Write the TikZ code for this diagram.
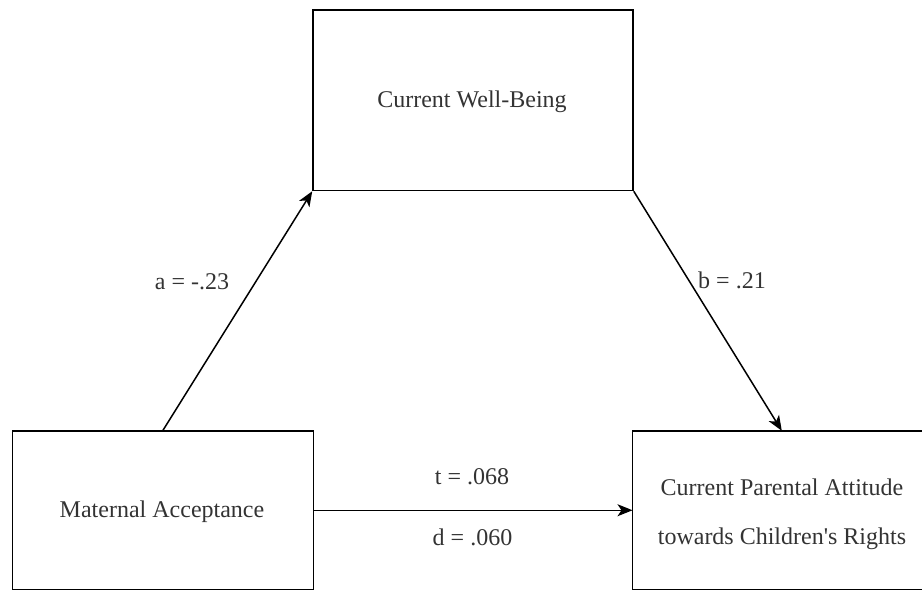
\documentclass[tikz,border=0pt]{standalone}
\usepackage{fontspec}
\setmainfont{Liberation Serif}
\usetikzlibrary{arrows.meta}
\begin{document}
\begin{tikzpicture}[x=1pt,y=-1pt,
  box/.style={draw=black, line width=1.5pt, inner sep=0pt},
  edge/.style={draw=black, line width=1.5pt},
  boxtxt/.style={align=center, inner sep=0pt,
    font=\fontsize{24}{49}\selectfont, text=black!80},
  lbl/.style={font=\fontsize{24}{28}\selectfont, text=black!80, inner sep=0pt},
  conn/.style={draw=black, line width=1.5pt, -{Stealth[length=15pt,width=12pt,inset=4pt]}}]
\useasboundingbox (0,0) rectangle (922,590);
\clip (0,0) rectangle (922,590);
\node[box, minimum width=320pt, minimum height=180.5pt] (wb) at (473,100.25) {};
\node[box, minimum width=300.6pt, minimum height=158.5pt] (ma) at (163,510.25) {};
\node[inner sep=0pt, minimum width=300pt, minimum height=158.5pt] (pa) at (782.7,510.25) {};
\draw[edge] (pa.north east) -- (pa.north west) -- (pa.south west) -- (pa.south east);
\node[boxtxt] (wbt) at (472,102) {Current Well-Being};
\node[boxtxt] (mat) at (162,512) {Maternal Acceptance};
\node[boxtxt] (pat) at (782,514) {Current Parental Attitude\\towards Children\textquotesingle s Rights};
\coordinate (paTop) at ([xshift=149.3pt]pa.north west);
\draw[conn] (ma.north) -- (wb.south west);
\draw[conn] (wb.south east) -- (paTop);
\draw[conn] (ma.east) -- (ma.east -| pa.west);
\node[lbl] (la) at (192,282) {a = -.23};
\node[lbl] (lb) at (732,280) {b = .21};
\node[lbl] (lt) at (472,477) {t = .068};
\node[lbl] (ld) at (472.5,537) {d = .060};
\end{tikzpicture}
\end{document}
